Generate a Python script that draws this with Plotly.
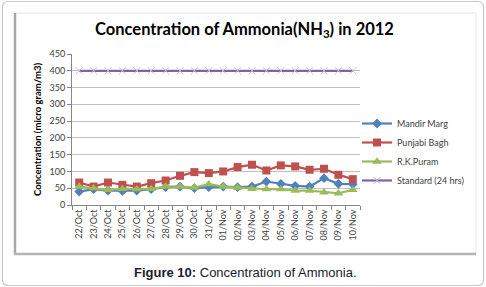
import plotly.graph_objects as go

dates = ["22/Oct", "23/Oct", "24/Oct", "25/Oct", "26/Oct", "27/Oct", "28/Oct", "29/Oct",
         "30/Oct", "31/Oct", "01/Nov", "02/Nov", "03/Nov", "04/Nov", "05/Nov", "06/Nov",
         "07/Nov", "08/Nov", "09/Nov", "10/Nov"]
mandir_marg = [40, 47, 43, 42, 43, 47, 53, 55, 50, 53, 55, 53, 55, 70, 63, 57, 55, 80, 63, 62]
punjabi_bagh = [67, 55, 67, 60, 55, 65, 73, 87, 98, 95, 100, 113, 120, 103, 118, 115, 105, 108, 90, 77]
rk_puram = [55, 50, 45, 48, 47, 48, 55, 55, 52, 62, 55, 52, 48, 47, 47, 43, 43, 38, 35, 45]
standard = [400, 400, 400, 400, 400, 400, 400, 400, 400, 400,
            400, 400, 400, 400, 400, 400, 400, 400, 400, 400]

W, H = 486, 287
L, R, T, B = 72, 360, 54, 205  # plot area in pixels


def px(x):
    return (x - L) / (R - L)


def py(y):
    return (B - y) / (B - T)


fig = go.Figure()
fig.add_trace(go.Scatter(x=dates, y=mandir_marg, name="Mandir Marg", mode="lines+markers",
                         line=dict(color="#4F81BD", width=2.2),
                         marker=dict(symbol="diamond", size=7.5, color="#4F81BD")))
fig.add_trace(go.Scatter(x=dates, y=punjabi_bagh, name="Punjabi Bagh", mode="lines+markers",
                         line=dict(color="#C0504D", width=2.2),
                         marker=dict(symbol="square", size=8, color="#C0504D")))
fig.add_trace(go.Scatter(x=dates, y=rk_puram, name="R.K.Puram", mode="lines+markers",
                         line=dict(color="#9BBB59", width=2.2),
                         marker=dict(symbol="triangle-up", size=8.5, color="#9BBB59")))
fig.add_trace(go.Scatter(x=dates, y=standard, name="Standard (24 hrs)", mode="lines+markers",
                         line=dict(color="#8064A2", width=2.2),
                         marker=dict(symbol="x-thin", size=7, color="#C9BEDC",
                                     line=dict(color="#C9BEDC", width=1))))

shapes = []
# outer rounded frame
x0, y0, x1, y1, r = 2.5, 1.5, 483.5, 285.5, 6
path = (f"M {px(x0+r)},{py(y0)} L {px(x1-r)},{py(y0)} Q {px(x1)},{py(y0)} {px(x1)},{py(y0+r)} "
        f"L {px(x1)},{py(y1-r)} Q {px(x1)},{py(y1)} {px(x1-r)},{py(y1)} "
        f"L {px(x0+r)},{py(y1)} Q {px(x0)},{py(y1)} {px(x0)},{py(y1-r)} "
        f"L {px(x0)},{py(y0+r)} Q {px(x0)},{py(y0)} {px(x0+r)},{py(y0)} Z")
shapes.append(dict(type="path", xref="paper", yref="paper", path=path,
                   line=dict(color="#C8C8C8", width=1.2), layer="below"))
# inner chart box
shapes.append(dict(type="rect", xref="paper", yref="paper", x0=px(15), x1=px(476), y0=py(254), y1=py(13),
                   line=dict(color="#E6E6E6", width=1), layer="below"))
shapes.append(dict(type="line", xref="paper", yref="paper", x0=px(15), x1=px(15), y0=py(254), y1=py(13),
                   line=dict(color="#A8A8A8", width=2.5), layer="below"))
shapes.append(dict(type="line", xref="paper", yref="paper", x0=px(14), x1=px(476), y0=py(254), y1=py(254),
                   line=dict(color="#B4B4B4", width=2.5), layer="below"))

annotations = [
    dict(text="<b>Concentration of Ammonia(NH<sub>3</sub>) in 2012</b>", x=px(244), y=py(29),
         xref="paper", yref="paper", showarrow=False, xanchor="center", yanchor="middle",
         font=dict(family="Lato", size=16.5, color="#000000")),
    dict(text="<b>Figure 10:</b> Concentration of Ammonia.", x=px(245), y=py(272),
         xref="paper", yref="paper", showarrow=False, xanchor="center", yanchor="middle",
         font=dict(family="Liberation Sans", size=13, color="#1a1a2e")),
]

fig.update_layout(
    width=W, height=H,
    margin=dict(l=L, r=W - R, t=T, b=H - B, autoexpand=False),
    paper_bgcolor="white", plot_bgcolor="white",
    font=dict(family="Lato", size=9, color="#404040"),
    showlegend=True,
    legend=dict(x=px(357), y=py(109), xanchor="left", yanchor="top",
                font=dict(family="Lato", size=9, color="#404040"),
                itemwidth=30, tracegroupgap=0, bgcolor="rgba(0,0,0,0)"),
    shapes=shapes,
    annotations=annotations,
)
fig.update_xaxes(type="category", tickangle=-90, tickson="boundaries", ticks="outside",
                 ticklen=4, tickcolor="#868686", showline=True, linecolor="#868686", linewidth=1,
                 showgrid=False, tickfont=dict(family="Lato", size=9, color="#404040"),
                 range=[-0.5, len(dates) - 0.5])
fig.update_yaxes(range=[0, 450], dtick=50, showgrid=True, gridcolor="#BFBFBF", gridwidth=1,
                 showline=True, linecolor="#868686", ticks="outside", ticklen=4, tickcolor="#868686",
                 zeroline=False, tickfont=dict(family="Lato", size=9, color="#404040"),
                 title=dict(text="<b>Concentration (micro gram/m3)</b>", standoff=6,
                            font=dict(family="Lato", size=9.5, color="#000000")))

fig.write_html("out.html", config={"displayModeBar": False},
               post_script="document.body.style.margin='0';document.body.style.overflow='hidden';")
